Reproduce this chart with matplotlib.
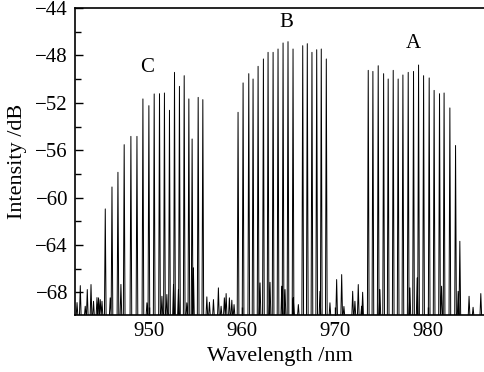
import numpy as np
import matplotlib
matplotlib.use("Agg")
import matplotlib.pyplot as plt
from matplotlib.ticker import MultipleLocator

# lasing lines (wavelength nm, intensity dB)
c_wl = [945.35, 946.07, 946.71, 947.38, 948.10, 948.75, 949.39, 950.03, 950.60, 951.17,
        951.70, 952.24, 952.78, 953.31, 953.82, 954.32, 954.67, 955.32, 955.82]
c_db = [-60.95, -59.10, -57.86, -55.53, -54.83, -54.83, -51.67, -52.24, -51.25, -51.23,
        -51.17, -52.63, -49.43, -50.61, -49.71, -51.67, -55.05, -51.54, -51.73]

b_wl = [959.60, 960.14, 960.75, 961.21, 961.75, 962.32, 962.82, 963.36, 963.89, 964.43,
        964.96, 965.50, 966.54, 967.03, 967.53, 968.04, 968.53, 969.07]
b_db = [-52.80, -50.32, -49.54, -49.99, -48.92, -48.30, -47.74, -47.74, -47.46, -46.95,
        -46.84, -47.46, -47.18, -47.01, -47.74, -47.52, -47.46, -48.30]

a_wl = [973.57, 974.07, 974.64, 975.22, 975.71, 976.25, 976.78, 977.29, 977.86, 978.43,
        978.97, 979.51, 980.11, 980.64, 981.22, 981.71, 982.33, 982.94, 983.40]
a_db = [-49.26, -49.35, -48.87, -49.54, -49.99, -49.26, -49.99, -49.65, -49.43, -49.35,
        -48.81, -49.71, -49.90, -50.95, -51.23, -51.17, -52.43, -55.60, -63.68]

# small spikes of the noise floor
noise_wl = [942.32, 942.67, 943.20, 943.42, 943.82, 944.09, 944.46, 944.63, 944.81, 945.00,
            945.88, 947.03, 949.82, 951.43, 951.96, 952.67, 953.20, 954.10, 954.81, 956.25,
            956.53, 956.96, 957.49, 957.78, 958.13, 958.32, 958.67, 958.93, 959.17, 961.96,
            963.03, 964.29, 964.64, 965.53, 966.07, 968.39, 969.46, 970.18, 970.72, 970.96,
            971.90, 972.14, 972.50, 972.86, 972.97, 974.82, 978.04, 978.82, 981.44, 983.22,
            984.39, 984.82, 985.65]
noise_db = [-68.85, -67.42, -69.16, -67.75, -67.33, -68.74, -68.43, -68.45, -68.60, -68.74,
            -68.45, -67.32, -68.87, -68.32, -68.17, -67.33, -67.75, -68.87, -65.92, -68.37,
            -68.82, -68.60, -67.61, -69.16, -68.45, -68.09, -68.45, -68.65, -69.02, -67.19,
            -67.14, -67.47, -67.75, -68.45, -69.02, -67.90, -68.87, -66.91, -66.49, -69.18,
            -67.90, -68.74, -67.33, -69.16, -67.98, -67.75, -67.61, -66.77, -67.47, -67.90,
            -68.32, -69.25, -68.09]

floor_db = -70.0
labels = [("C", 949.86, -49.03), ("B", 964.77, -45.24), ("A", 978.36, -47.01)]

# build the spectrum trace: each line as a narrow spike
wl = np.array(c_wl + b_wl + a_wl + noise_wl)
db = np.array(c_db + b_db + a_db + noise_db)
order = np.argsort(wl)
hw = 0.09
xs, ys = [941.5], [floor_db]
for w, d in zip(wl[order], db[order]):
    xs += [w - hw, w, w + hw]
    ys += [floor_db, d, floor_db]
xs.append(987.0)
ys.append(floor_db)

plt.rcParams['font.family'] = ['Liberation Serif', 'DejaVu Serif']

fig = plt.figure(figsize=(4.85, 3.72), dpi=100)
ax = fig.add_axes([0.1546, 0.1532, 0.8454, 0.8253])
ax.plot(xs, ys, color='black', linewidth=0.7)

ax.set_xlim(942.1, 986.1)
ax.set_ylim(-69.9, -44)
ax.xaxis.set_major_locator(MultipleLocator(10))
ax.yaxis.set_major_locator(MultipleLocator(4))
ax.yaxis.set_minor_locator(MultipleLocator(2))
ax.tick_params(direction='in', labelsize=15, width=1.0)
ax.tick_params(which='major', length=6)
ax.tick_params(which='minor', direction='in', length=4, width=1.0)
ax.tick_params(axis='x', pad=5)
ax.tick_params(axis='y', pad=5)
ax.spines['right'].set_visible(False)
for s in ['left', 'bottom', 'top']:
    ax.spines[s].set_linewidth(1.2)

ax.set_xlabel("Wavelength /nm", fontsize=16, labelpad=4)
ax.set_ylabel("Intensity /dB", fontsize=16, labelpad=6)

for txt, x, y in labels:
    ax.text(x, y, txt, fontsize=15, ha='center', va='center')

fig.savefig("out.png", dpi=100)
